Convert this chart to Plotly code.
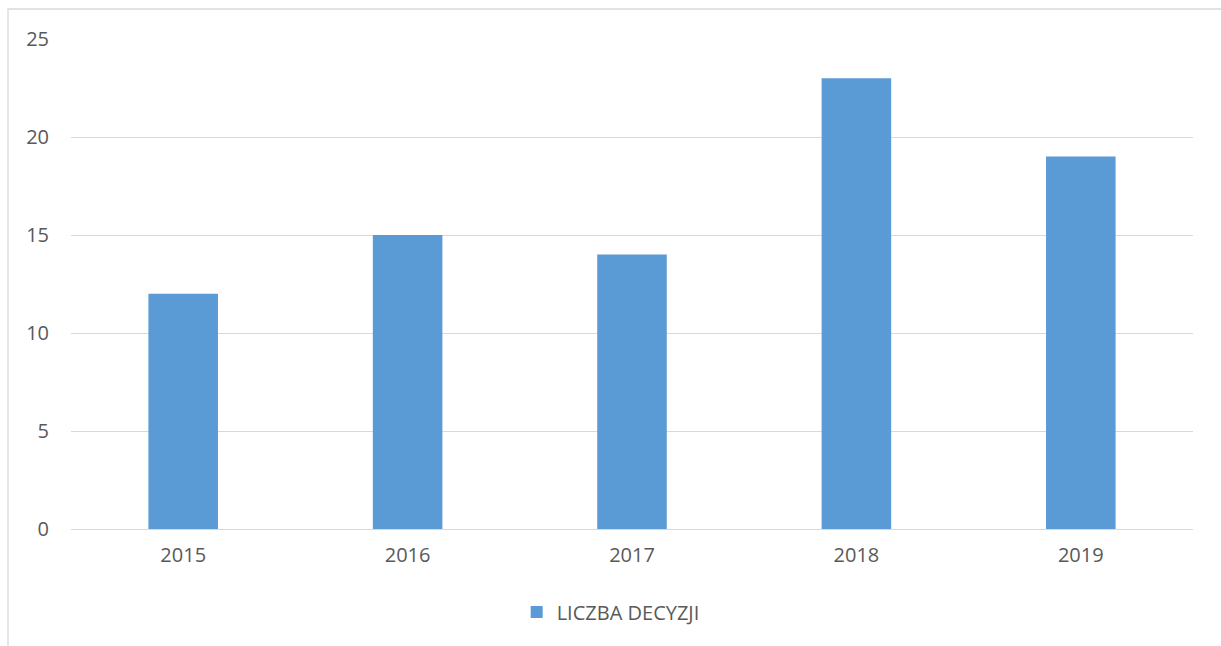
import plotly.graph_objects as go

# Number of decisions per year
years = ["2015", "2016", "2017", "2018", "2019"]
decisions = [12, 15, 14, 23, 19]
y_ticks = [0, 5, 10, 15, 20, 25]

W, H = 1221, 646
ML, MR, MT, MB = 71, 28, 39, 117
PW, PH = W - ML - MR, H - MT - MB

text_color = "#595959"
grid_color = "#D9D9D9"
font_family = "Open Sans, Noto Sans, sans-serif"

fig = go.Figure()
fig.add_trace(go.Bar(
    x=years,
    y=decisions,
    name="LICZBA DECYZJI",
    marker=dict(color="#5B9BD5", line=dict(width=0)),
))

# light frame around the chart area
fig.add_shape(
    type="rect", xref="paper", yref="paper",
    x0=(8 - ML) / PW, x1=(W + 20 - ML) / PW,
    y0=-(H + 20 - MT - PH) / PH, y1=1 + (MT - 9) / PH,
    line=dict(color=grid_color, width=1.3),
    fillcolor="rgba(0,0,0,0)", layer="below",
)

fig.update_layout(
    width=W, height=H,
    margin=dict(l=ML, r=MR, t=MT, b=MB, autoexpand=False),
    paper_bgcolor="white", plot_bgcolor="white",
    font=dict(family=font_family, size=20, color=text_color),
    bargap=0.69,
    showlegend=True,
    legend=dict(
        orientation="h", x=0.481, xanchor="center",
        y=-(612 - MT - PH) / PH, yanchor="middle",
        font=dict(size=20, color=text_color),
        itemwidth=30,
    ),
    xaxis=dict(
        type="category", showgrid=False, showline=False, zeroline=False,
        ticks="", ticklabelstandoff=12,
        tickfont=dict(size=20, color=text_color),
    ),
    yaxis=dict(
        range=[0, 25], tickvals=y_ticks, showgrid=True, gridcolor=grid_color,
        gridwidth=1.3, zeroline=True, zerolinecolor=grid_color, zerolinewidth=1.3,
        showline=False, ticks="", ticklabelstandoff=21,
        tickfont=dict(size=20, color=text_color),
    ),
)

fig.write_html("out.html")
